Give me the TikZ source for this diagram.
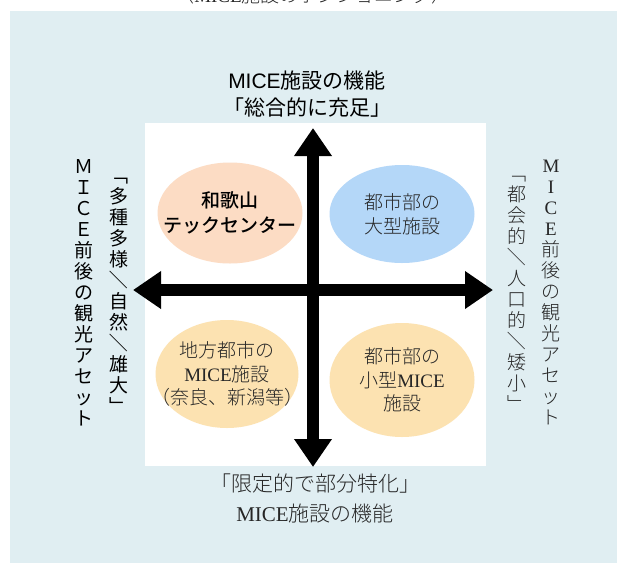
\documentclass[tikz,border=0pt]{standalone}
\usepackage{fontspec}
\setmainfont{Liberation Serif}
\setsansfont{Liberation Sans}
\newfontfamily\jpgothic{Noto Sans CJK JP}
\newfontfamily\jpmedium{Noto Sans CJK JP Medium}
\newfontfamily\jpmincho{Noto Sans CJK JP Light}
\usetikzlibrary{arrows.meta,shapes.geometric,positioning}
\definecolor{paneblue}{HTML}{E0EEF2}
\definecolor{peach}{HTML}{FCDCC4}
\definecolor{skyblue}{HTML}{B4D7F8}
\definecolor{wheat}{HTML}{FCE2B1}
\newcommand{\tslash}{\rotatebox[origin=c]{-90}{／}}

\begin{document}
\begin{tikzpicture}[x=1pt,y=-1pt,
    axis/.style={line width=12pt,{Triangle[length=28pt,width=36pt]}-{Triangle[length=28pt,width=36pt]}},
    blob/.style={ellipse,inner sep=0pt},
    gothic/.style={font=\jpmedium\fontsize{19}{25}\selectfont,align=center},
    mincho/.style={font=\jpmincho\fontsize{19}{23.5}\selectfont,text=black!85,align=center},
    tate/.style={align=center,inner sep=0pt}]

        \useasboundingbox (0,0) rectangle (618,563);
        \fill[paneblue] (10,11) rectangle (617,563);
        \fill[white] (145,123) rectangle (486,466);

        \node (title) [mincho] at (313,-5) {〈{\rmfamily MICE}施設のポジショニング〉};

        \node[blob,fill=peach,  minimum width=145pt,minimum height=101pt] (wakayama)   at (230,213) {};
        \node[blob,fill=skyblue,minimum width=145pt,minimum height=98pt]  (urbanbig)   at (402,214) {};
        \node[blob,fill=wheat,  minimum width=143pt,minimum height=108pt] (regional)   at (227,374) {};
        \node[blob,fill=wheat,  minimum width=145pt,minimum height=114pt] (urbansmall) at (402,380) {};

        \node[gothic] (wakayamatext)   at (wakayama.center)   {和歌山\\テックセンター};
        \node[mincho] (urbanbigtext)   at (urbanbig.center)   {都市部の\\大型施設};
        \node[mincho] (regionaltext)   at (regional.center)   {地方都市の\\{\rmfamily MICE}施設\\（奈良、新潟等）};
        \node[mincho] (urbansmalltext) at (urbansmall.center) {都市部の\\小型{\rmfamily MICE}\\施設};

        \coordinate (north) at (313,128);
        \coordinate (south) at (313,467);
        \coordinate (west)  at (133,290);
        \coordinate (east)  at (493,290);

        \draw[axis] (west)  -- (east);
        \draw[axis] (south) -- (north);

        \node[gothic,font=\jpgothic\fontsize{21}{27}\selectfont]
              (topcap) at (307,94) {{\sffamily MICE}施設の機能\\「総合的に充足」};
        \node[mincho,font=\jpmincho\fontsize{21}{30}\selectfont]
              (botcap) at (315,498) {「限定的で部分特化」\\{\rmfamily MICE}施設の機能};

        \node[tate,font=\jpgothic\fontsize{19}{21}\selectfont]
              (leftout) at (84,293) {Ｍ\\Ｉ\\Ｃ\\Ｅ\\前\\後\\の\\観\\光\\ア\\セ\\ッ\\ト};
        \node[tate,font=\jpgothic\fontsize{19}{21}\selectfont]
              (leftin) at (119,296) {﹁\\多\\種\\多\\様\\\tslash\\自\\然\\\tslash\\雄\\大\\﹂};
        \node[tate,text=black!85,font=\jpmincho\fontsize{19}{21}\selectfont]
              (rightout) at (551,292) {{\rmfamily M}\\{\rmfamily I}\\{\rmfamily C}\\{\rmfamily E}\\前\\後\\の\\観\\光\\ア\\セ\\ッ\\ト};
        \node[tate,text=black!85,font=\jpmincho\fontsize{19}{21}\selectfont]
              (rightin) at (517,294) {﹁\\都\\会\\的\\\tslash\\人\\口\\的\\\tslash\\矮\\小\\﹂};
\end{tikzpicture}
\end{document}
